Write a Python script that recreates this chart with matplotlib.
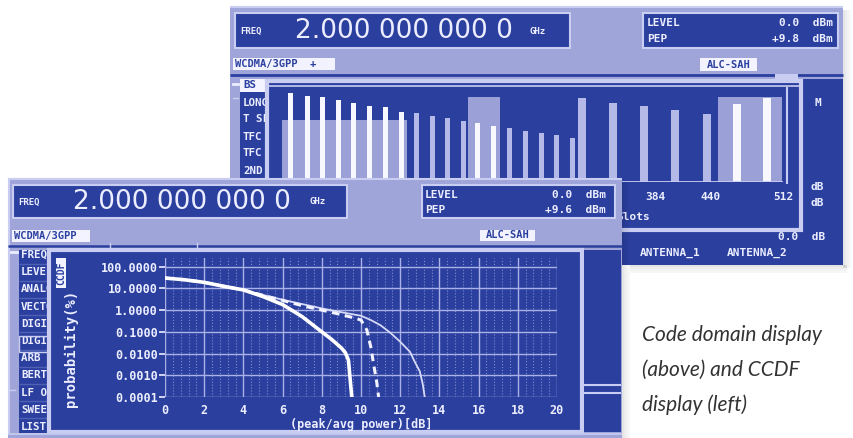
import matplotlib
matplotlib.use('Agg')
import matplotlib.pyplot as plt
from matplotlib.patches import Rectangle
from matplotlib.ticker import FixedLocator, LogLocator, NullFormatter, FuncFormatter, MultipleLocator

# ---------------- data ----------------
# upper screen: code domain display (code number 0..512, relative power in % of scale)
thin_codes = [19, 36, 51, 67, 82, 98, 114, 130, 145, 161, 176, 192, 207, 223, 239, 254, 270, 285, 301]
thin_power = [94.7, 91.5, 90.4, 87.2, 84.0, 80.9, 79.8, 74.5, 73.4, 70.2, 68.1, 64.9, 62.8, 59.6,
              57.4, 54.3, 52.1, 50.0, 46.8]
wide_codes = [311, 342, 373, 404, 436, 466, 496]
wide_power = [89.4, 84.0, 80.9, 76.6, 72.3, 83.0, 89.4]
block_start = [11, 197, 447]
block_end = [136, 229, 511]
block_level = [66.0, 90.4, 90.4]
code_ticks = [384, 440, 512]
code_tick_labels = ['384', '440', '512']

# lower screen: CCDF curves (peak/avg power in dB, probability in %)
ccdf_x_a = [0, 1, 2, 3, 4, 5, 6, 7, 8, 8.5, 9.0, 9.2, 9.36, 9.45, 9.53]
ccdf_y_a = [30, 25, 19, 12.5, 8.5, 4.2, 1.8, 0.5, 0.1, 0.045, 0.018, 0.011, 0.005, 0.0006, 0.0001]
ccdf_x_b = [0, 1, 2, 3, 4, 5, 6, 7, 8, 9, 9.6, 10.0, 10.3, 10.5, 10.65, 10.8, 10.9]
ccdf_y_b = [30, 25, 19, 12.5, 8.5, 4.8, 2.8, 1.6, 1.0, 0.62, 0.45, 0.35, 0.12, 0.02, 0.003, 0.0005, 0.0001]
ccdf_x_c = [0, 1, 2, 3, 4, 5, 6, 7, 8, 9, 10, 10.5, 11, 11.5, 12, 12.5, 12.7, 13.0, 13.15, 13.25]
ccdf_y_c = [30, 25, 19, 12.5, 8.5, 5.0, 3.0, 1.9, 1.2, 0.8, 0.55, 0.35, 0.2, 0.09, 0.035, 0.012,
            0.005, 0.0015, 0.0004, 0.0001]
ccdf_yticks = [100, 10, 1, 0.1, 0.01, 0.001, 0.0001]
ccdf_xticks = [0, 2, 4, 6, 8, 10, 12, 14, 16, 18, 20]

top_menu = ['BS', 'LONG', 'T SL', 'TFC', 'TFC', '2ND']
front_menu = ['FREQ', 'LEVEL', 'ANALOG', 'VECTOR', 'DIGITAL', 'DIGITAL', 'ARB MOD', 'BERT',
              'LF OUT', 'SWEEP', 'LIST']

# ---------------- style ----------------
W, H = 854, 438
DB = '#2b3f9f'
LAV = '#9fa5d8'
LB = '#c9cdf1'
TXT = '#eceeff'
WBOX = '#f2f3ff'
BAR_W = '#f6f7ff'
BAR_L = '#b4b9e7'
BLOCK = '#9ba1d7'
MONO = dict(family='DejaVu Sans Mono', weight='bold')

fig = plt.figure(figsize=(W / 100, H / 100), dpi=100)
fig.patch.set_facecolor('white')


def fr(x0, y0, x1, y1):
    return [x0 / W, 1 - y1 / H, (x1 - x0) / W, (y1 - y0) / H]


def overlay(z):
    a = fig.add_axes([0, 0, 1, 1], zorder=z)
    a.set_xlim(0, W)
    a.set_ylim(H, 0)
    a.axis('off')
    a.patch.set_alpha(0)
    return a


def rect(ax, x0, y0, x1, y1, fc, ec='none', lw=0, z=1, alpha=1):
    ax.add_patch(Rectangle((x0, y0), x1 - x0, y1 - y0, facecolor=fc, edgecolor=ec,
                           linewidth=lw, zorder=z, alpha=alpha))


def hline(ax, y, x0, x1, c, lw=1.0, z=3):
    ax.plot([x0, x1], [y, y], color=c, lw=lw, zorder=z, solid_capstyle='butt')


# ================= back (upper) screen =================
back = overlay(0)
# shadows
for i, a in enumerate([0.10, 0.07, 0.05, 0.03]):
    rect(back, 843 + 2 * i, 10, 845 + 2 * i, 268, '#000000', alpha=a, z=0)
    rect(back, 630, 265 + 2 * i, 847, 267 + 2 * i, '#000000', alpha=a, z=0)
rect(back, 230, 6, 843, 265, LAV, z=1)
hline(back, 7, 230, 843, LB, 1.5)
# header boxes
rect(back, 235, 13, 570, 48, DB, LB, 1.5, z=2)
back.text(240, 31, 'FREQ', color=TXT, fontsize=6.5, va='center', zorder=4, **MONO)
back.text(295, 31, '2.000 000 000 0', color=TXT, fontsize=19, va='center', zorder=4,
          family='DejaVu Sans')
back.text(530, 31, 'GHz', color=TXT, fontsize=6.5, va='center', zorder=4, **MONO)
rect(back, 643, 13, 838, 48, DB, LB, 1.5, z=2)
back.text(647, 23, 'LEVEL', color=TXT, fontsize=8, va='center', zorder=4, **MONO)
back.text(833, 23, '0.0  dBm', color=TXT, fontsize=8, va='center', ha='right', zorder=4, **MONO)
back.text(647, 39, 'PEP', color=TXT, fontsize=8, va='center', zorder=4, **MONO)
back.text(833, 39, '+9.8  dBm', color=TXT, fontsize=8, va='center', ha='right', zorder=4, **MONO)
rect(back, 233, 58, 335, 70, WBOX, z=2)
back.text(235, 64.5, 'WCDMA/3GPP  +', color=DB, fontsize=7.5, va='center', zorder=4, **MONO)
rect(back, 700, 58, 757, 71, WBOX, z=2)
back.text(728.5, 64.5, 'ALC-SAH', color=DB, fontsize=7.5, va='center', ha='center', zorder=4, **MONO)
hline(back, 75, 230, 843, DB, 2)
# main dark area
rect(back, 240, 79, 843, 265, DB, z=2)
# menu
rect(back, 240, 79, 267, 92, WBOX, z=3)
for i, item in enumerate(top_menu):
    back.text(243, 85.5 + 17 * i, item, color=DB if i == 0 else TXT, fontsize=7.8,
              va='center', zorder=4, **MONO)
back.plot([233, 238], [84, 84], color=TXT, lw=2, zorder=4)
back.plot([233, 238], [98, 98], color=LB, lw=1, zorder=4)
# window
rect(back, 267, 81, 801, 230, DB, LB, 3, z=5)
hline(back, 86, 268, 800, LB, 1.2, z=6)
back.plot([787, 787], [88, 183], color=LB, lw=1.5, zorder=6)
rect(back, 775, 74, 798, 80, LB, z=5)
back.text(616, 217, 'Slots', color=TXT, fontsize=8, va='center', ha='left', zorder=6, **MONO)
back.text(818, 103, 'M', color=TXT, fontsize=8, va='center', ha='center', zorder=6, **MONO)
back.text(817, 187, 'dB', color=TXT, fontsize=8, va='center', ha='center', zorder=6, **MONO)
back.text(817, 203, 'dB', color=TXT, fontsize=8, va='center', ha='center', zorder=6, **MONO)
back.text(825, 237, '0.0  dB', color=TXT, fontsize=8, va='center', ha='right', zorder=6, **MONO)
back.text(640, 253, 'ANTENNA_1', color=TXT, fontsize=8, va='center', zorder=6, **MONO)
back.text(727, 253, 'ANTENNA_2', color=TXT, fontsize=8, va='center', zorder=6, **MONO)

# caption
for i, line in enumerate(['Code domain display', '(above) and CCDF', 'display (left)']):
    back.text(642, 335 + 35 * i, line, color='#333333', fontsize=15, style='italic',
              family='Lato', va='center', zorder=6)

# ================= code domain bars =================
bx = fig.add_axes(fr(271, 88, 783, 182), zorder=1)
bx.patch.set_alpha(0)
bx.set_xlim(0, 512)
bx.set_ylim(0, 100)
for s in bx.spines.values():
    s.set_visible(False)
for s0, s1, lv in zip(block_start, block_end, block_level):
    bx.bar(s0, lv, width=s1 - s0, align='edge', color=BLOCK, zorder=1)
thin_colors = [BAR_W] * 8 + [BAR_L] * 4 + [BAR_W] * 2 + [BAR_L] * 5
bx.bar(thin_codes, thin_power, width=5, color=thin_colors, zorder=2)
wide_colors = [BAR_L] * 5 + [BAR_W] * 2
bx.bar(wide_codes, wide_power, width=8, color=wide_colors, zorder=2)
bx.axhline(0, color=LB, lw=2, zorder=3)
bx.set_yticks([])
bx.xaxis.set_major_locator(FixedLocator(code_ticks))
bx.set_xticklabels(code_tick_labels)
bx.tick_params(axis='x', length=0, pad=7, colors=TXT, labelsize=8)
for t in bx.get_xticklabels():
    t.set_family('DejaVu Sans Mono')
    t.set_weight('bold')

# ================= front (lower) screen =================
fr_ax = overlay(2)
for i, a in enumerate([0.10, 0.07, 0.05, 0.03]):
    rect(fr_ax, 622 + 2 * i, 182, 624 + 2 * i, 438, '#000000', alpha=a, z=0)
rect(fr_ax, 8, 178, 622, 438, LAV, z=1)
hline(fr_ax, 179, 8, 622, LB, 1.5)
fr_ax.plot([9, 9], [179, 438], color=LB, lw=1.5, zorder=2)
rect(fr_ax, 13, 185, 347, 218, DB, LB, 1.5, z=2)
fr_ax.text(18, 202, 'FREQ', color=TXT, fontsize=6.5, va='center', zorder=4, **MONO)
fr_ax.text(73, 202, '2.000 000 000 0', color=TXT, fontsize=19, va='center', zorder=4,
           family='DejaVu Sans')
fr_ax.text(310, 202, 'GHz', color=TXT, fontsize=6.5, va='center', zorder=4, **MONO)
rect(fr_ax, 422, 185, 615, 218, DB, LB, 1.5, z=2)
fr_ax.text(425, 195, 'LEVEL', color=TXT, fontsize=8, va='center', zorder=4, **MONO)
fr_ax.text(606, 195, '0.0  dBm', color=TXT, fontsize=8, va='center', ha='right', zorder=4, **MONO)
fr_ax.text(425, 210, 'PEP', color=TXT, fontsize=8, va='center', zorder=4, **MONO)
fr_ax.text(606, 210, '+9.6  dBm', color=TXT, fontsize=8, va='center', ha='right', zorder=4, **MONO)
rect(fr_ax, 12, 230, 90, 242, WBOX, z=2)
fr_ax.text(14, 236, 'WCDMA/3GPP', color=DB, fontsize=7.5, va='center', zorder=4, **MONO)
rect(fr_ax, 480, 230, 535, 241, WBOX, z=2)
fr_ax.text(507.5, 235.5, 'ALC-SAH', color=DB, fontsize=7.5, va='center', ha='center', zorder=4, **MONO)
hline(fr_ax, 246, 8, 622, DB, 1.8)
for xt in [110, 197]:
    fr_ax.plot([xt, xt], [243, 248], color=LB, lw=1, zorder=4)
# menu
rect(fr_ax, 19, 250, 50, 433, DB, z=2)
for i, item in enumerate(front_menu):
    yc = 255 + 17.2 * i
    fr_ax.text(21, yc, item, color=TXT, fontsize=7.8, va='center', zorder=3, **MONO)
    hline(fr_ax, yc + 8.6, 19, 50, '#4f61b5', 1, z=3)
rect(fr_ax, 19, 336, 52, 352, 'none', LB, 1, z=3)
fr_ax.plot([11, 17], [252, 252], color=TXT, lw=2, zorder=4)
fr_ax.plot([11, 17], [434, 434], color=TXT, lw=2, zorder=4)
fr_ax.plot([10, 15], [390, 390], color=LB, lw=1, zorder=4)
# window and right column
rect(fr_ax, 49, 250, 582, 432, DB, LB, 3, z=5)
rect(fr_ax, 584, 250, 621, 432, DB, z=5)
hline(fr_ax, 385, 584, 621, LB, 1.5, z=6)
hline(fr_ax, 393, 584, 621, LB, 1.5, z=6)
rect(fr_ax, 8, 433, 622, 438, LAV, z=6)
hline(fr_ax, 434, 8, 622, LB, 1.2, z=7)
# y label bits
rect(fr_ax, 56, 258, 66, 288, WBOX, z=7)
fr_ax.text(61, 273, 'CCDF', color=DB, fontsize=7, rotation=90, va='center', ha='center', zorder=8, **MONO)
fr_ax.text(71, 348, 'probability(%)', color=TXT, fontsize=10, rotation=90, va='center',
           ha='center', zorder=8, **MONO)

# ================= CCDF plot =================
cx = fig.add_axes(fr(165, 258, 557, 397), zorder=3)
cx.set_facecolor(DB)
cx.set_yscale('log')
cx.set_xlim(0, 20)
cx.set_ylim(1e-4, 10 ** 2.4)
cx.xaxis.set_major_locator(FixedLocator(ccdf_xticks))
cx.xaxis.set_minor_locator(MultipleLocator(0.4))
cx.yaxis.set_major_locator(FixedLocator(ccdf_yticks))
cx.yaxis.set_minor_locator(LogLocator(base=10, subs=(2.5, 5.0)))
cx.yaxis.set_minor_formatter(NullFormatter())
cx.yaxis.set_major_formatter(FuncFormatter(lambda v, p: '%.4f' % v))
cx.grid(True, which='major', axis='x', color='#aab1e6', lw=1.0)
cx.grid(True, which='minor', axis='x', color='#7f8bd0', lw=0.8, ls=':')
cx.grid(True, which='major', axis='y', color='#aab1e6', lw=1.0)
cx.grid(True, which='minor', axis='y', color='#6f7cc6', lw=0.9, ls=(0, (1, 1)))
cx.set_axisbelow(True)
for s in cx.spines.values():
    s.set_visible(False)
cx.tick_params(axis='y', which='major', direction='out', length=4, width=1.2, color=TXT,
               labelcolor=TXT, labelsize=8.5, pad=1)
cx.tick_params(axis='y', which='minor', length=0)
cx.tick_params(axis='x', which='both', length=0, labelcolor=TXT, labelsize=8.5, pad=5)
for t in cx.get_xticklabels() + cx.get_yticklabels():
    t.set_family('DejaVu Sans Mono')
    t.set_weight('bold')
cx.set_xlabel('(peak/avg power)[dB]', color=TXT, fontsize=8.5, labelpad=1,
              family='DejaVu Sans Mono', weight='bold')
cx.plot(ccdf_x_c, ccdf_y_c, color='#d6daf7', lw=1.3, zorder=3)
cx.plot(ccdf_x_b, ccdf_y_b, color='#f2f3ff', lw=2.2, ls=(0, (2.5, 1.8)), zorder=4)
cx.plot(ccdf_x_a, ccdf_y_a, color='#ffffff', lw=2.6, zorder=5)

fig.savefig('out.png', dpi=100, facecolor='white')
